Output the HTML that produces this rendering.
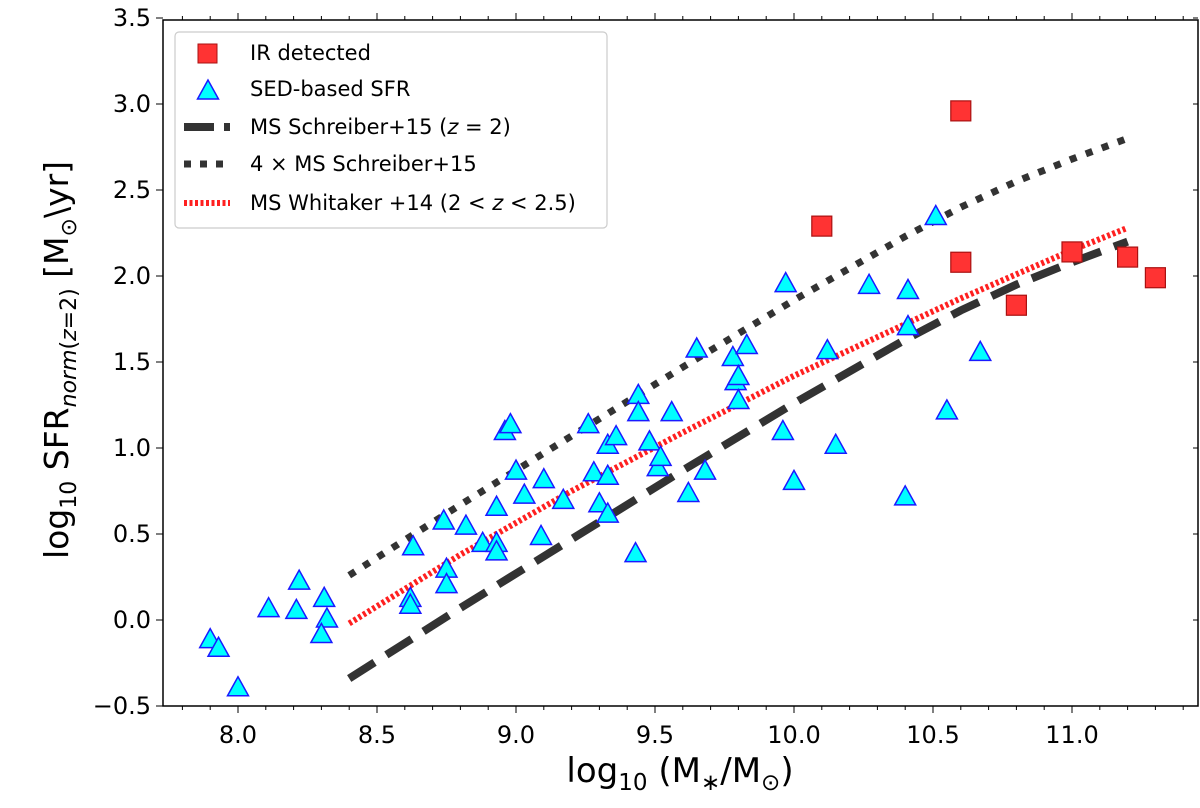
<!DOCTYPE html>
<html><head><meta charset="utf-8"><style>
body{margin:0;background:#fff}
svg text{font-family:"DejaVu Sans","Liberation Sans",sans-serif;fill:#000}
</style></head><body>
<svg id="chart" width="1200" height="803" viewBox="0 0 1200 803" xmlns="http://www.w3.org/2000/svg"></svg>
<script>
const triX=[7.90,7.93,8.00,8.11,8.22,8.21,8.31,8.32,8.30,8.63,8.62,8.62,8.74,8.75,8.75,8.82,8.88,8.93,8.93,8.93,8.96,8.98,9.00,9.03,9.10,9.09,9.17,9.26,9.28,9.30,9.33,9.33,9.33,9.36,9.44,9.44,9.43,9.48,9.51,9.52,9.56,9.62,9.65,9.68,9.78,9.79,9.80,9.80,9.83,9.96,9.97,10.00,10.12,10.15,10.27,10.41,10.41,10.40,10.51,10.55,10.67];
const triY=[-0.12,-0.17,-0.40,0.06,0.22,0.05,0.12,0.00,-0.09,0.42,0.12,0.08,0.57,0.29,0.20,0.54,0.44,0.65,0.44,0.39,1.09,1.13,0.86,0.72,0.81,0.48,0.69,1.13,0.85,0.67,1.01,0.83,0.61,1.06,1.30,1.20,0.38,1.03,0.88,0.94,1.20,0.73,1.57,0.86,1.52,1.38,1.27,1.41,1.59,1.09,1.95,0.80,1.56,1.01,1.94,1.91,1.70,0.71,2.34,1.21,1.55];
const sqX=[10.60,10.10,10.60,10.80,11.00,11.20,11.30];
const sqY=[2.96,2.29,2.08,1.83,2.14,2.11,1.99];
const lineX=[8.4,8.8,9.2,9.6,10.0,10.4,10.6,10.8,11.0,11.2];
const schreiberY=[-0.34,0.07,0.47,0.87,1.26,1.63,1.80,1.95,2.08,2.20];
const schreiber4Y=[0.26,0.67,1.07,1.47,1.86,2.23,2.40,2.55,2.68,2.80];
const whitakerY=[-0.02,0.38,0.75,1.09,1.42,1.72,1.87,2.01,2.15,2.28];
const xTicks=[8.0,8.5,9.0,9.5,10.0,10.5,11.0];
const yTicks=[-0.5,0.0,0.5,1.0,1.5,2.0,2.5,3.0,3.5];
const yTickLabels=["\u22120.5","0.0","0.5","1.0","1.5","2.0","2.5","3.0","3.5"];

const L=163,R=1198,T=20,B=706;
const sx=v=>238+(v-8)*278;
const sy=v=>620-v*172;
const svg=document.getElementById('chart');
const NS='http://www.w3.org/2000/svg';
function mk(tag,attrs,parent){const e=document.createElementNS(NS,tag);for(const k in attrs)e.setAttribute(k,attrs[k]);(parent||svg).appendChild(e);return e;}

function drawLine(ys,style,name){
  const p=mk('polyline',Object.assign({points:lineX.map((x,i)=>sx(x)+','+sy(ys[i])).join(' '),fill:'none'},style));
  
  
}
drawLine(schreiberY,{stroke:'#333','stroke-width':8,'stroke-dasharray':'30 14'},'schreiber-line');
drawLine(schreiber4Y,{stroke:'#333','stroke-width':7,'stroke-dasharray':'7 10'},'schreiber-4x-line');
drawLine(whitakerY,{stroke:'#ff2020','stroke-width':6,'stroke-dasharray':'3 2.5'},'whitaker-line');

triX.forEach((x,i)=>{
  const cx=sx(x),cy=sy(triY[i]);
  const t=mk('polygon',{points:`${cx},${cy-12} ${cx-10.5},${cy+7} ${cx+10.5},${cy+7}`,fill:'#00ffff',stroke:'#1a1aff','stroke-width':1.5});
  
  
});
sqX.forEach((x,i)=>{
  const cx=sx(x),cy=sy(sqY[i]);
  const s=mk('rect',{x:cx-10,y:cy-10,width:20,height:20,fill:'#ff3333',stroke:'#aa1111','stroke-width':1.2});
  
  
});

const fr=mk('rect',{x:L,y:T,width:R-L,height:B-T,fill:'none',stroke:'#000','stroke-width':1.5});



for(let v=7.8;v<=11.51;v+=0.1){
  const px=sx(v);if(px>R)break;const major=Math.abs(v*2-Math.round(v*2))<1e-6;
  const len=major?7:4;
  mk('line',{x1:px,x2:px,y1:B,y2:B+len,stroke:'#000','stroke-width':1});
  mk('line',{x1:px,x2:px,y1:T,y2:T-len,stroke:'#000','stroke-width':1});
}
xTicks.forEach(v=>{
  const t=mk('text',{x:sx(v),y:B+37,'font-size':24,'text-anchor':'middle'});t.textContent=v.toFixed(1);
  
  
});
yTicks.forEach((v,i)=>{
  const py=sy(v);
  mk('line',{x1:L,x2:L-7,y1:py,y2:py,stroke:'#000','stroke-width':1});
  mk('line',{x1:R,x2:R-5,y1:py,y2:py,stroke:'#000','stroke-width':1});
  const t=mk('text',{x:L-12,y:py+8,'font-size':24,'text-anchor':'end'});t.textContent=yTickLabels[i];
  
  
});
</script>
<svg style="position:absolute;left:0;top:0" width="1200" height="803">
<text x="680" y="782" font-size="34" text-anchor="middle">log<tspan font-size="23" dy="8">10</tspan><tspan dy="-8"> (M</tspan><tspan font-size="23" dy="8">∗</tspan><tspan dy="-8">/M</tspan><tspan font-size="23" dy="8">⊙</tspan><tspan dy="-8">)</tspan></text>
<text transform="translate(68,360) rotate(-90)" font-size="33" text-anchor="middle">log<tspan font-size="22" dy="8">10</tspan><tspan dy="-8"> SFR</tspan><tspan font-size="22" dy="8" font-style="italic">norm</tspan><tspan font-size="22">(</tspan><tspan font-size="22" font-style="italic">z</tspan><tspan font-size="22">=2)</tspan><tspan dy="-8"> [M</tspan><tspan font-size="22" dy="8">⊙</tspan><tspan dy="-8">\yr]</tspan></text>
<g>
<rect x="175" y="32" width="432" height="196" rx="4" fill="#fff" fill-opacity="0.85" stroke="#ccc" stroke-width="1.2"/>
<rect x="198" y="44" width="19" height="19" fill="#ff3333" stroke="#aa1111"/>
<text x="250" y="60" font-size="21">IR detected</text>
<polygon points="208,80 197.5,99 218.5,99" fill="#00ffff" stroke="#1a1aff" stroke-width="1.5"/>
<text x="250" y="96" font-size="21">SED-based SFR</text>
<line x1="184" y1="127" x2="230" y2="127" stroke="#333" stroke-width="8" stroke-dasharray="30 10"/>
<text x="250" y="134" font-size="21">MS Schreiber+15 (<tspan font-style="italic">z</tspan> = 2)</text>
<line x1="184" y1="164" x2="230" y2="164" stroke="#333" stroke-width="7" stroke-dasharray="7 9"/>
<text x="250" y="171" font-size="21">4 × MS Schreiber+15</text>
<line x1="184" y1="203" x2="230" y2="203" stroke="#ff2020" stroke-width="6" stroke-dasharray="3 2.5"/>
<text x="250" y="210" font-size="21">MS Whitaker +14 (2 &lt; <tspan font-style="italic">z</tspan> &lt; 2.5)</text>
</g>
</svg>
</body></html>
